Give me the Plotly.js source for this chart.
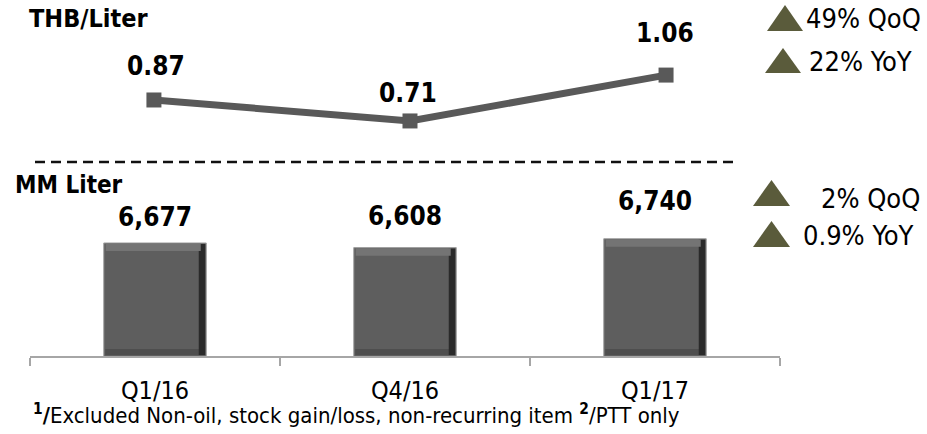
<!DOCTYPE html>
<html>
<head>
<meta charset="utf-8">
<script src="https://cdn.plot.ly/plotly-3.0.1.min.js"></script>
<style>html,body{margin:0;padding:0;background:#fff;}</style>
</head>
<body>
<div id="chart" style="width:927px;height:434px"></div>
<script>
// Quarterly oil marketing figures
const quarters = ['Q1/16', 'Q4/16', 'Q1/17'];
const volumeMMLiter = [6677, 6608, 6740];
const marginTHBPerLiter = [0.87, 0.71, 1.06];
const marginChanges = ['49% QoQ', '22% YoY'];
const volumeChanges = ['2% QoQ', '0.9% YoY'];

const FONT = "'DejaVu Sans Condensed', 'Noto Sans', sans-serif";
const W = 927, H = 434, L = 30, R = 147, T = 0, B = 78;
const PW = W - L - R, PH = H - T - B;
// pixel -> paper helpers for decorations
const px = x => (x - L) / PW;
const py = y => (H - B - y) / PH;

const barColor = '#5e5e5e';
const lineColor = '#595959';
const arrowColor = '#5a5b3b';

// bar body plus bevel edges (lighter top band, dark right edge, darker foot)
const BAR_W = 0.41;
const BEVEL_UNITS = 110;          // ~7px on the volume axis
const bars = {
  type: 'bar', x: quarters, y: volumeMMLiter, xaxis: 'x', yaxis: 'y',
  width: BAR_W, offset: -BAR_W / 2,
  marker: {color: barColor, line: {color: '#a0a0a0', width: 1}},
  hoverinfo: 'skip'
};
const barTop = {
  type: 'bar', x: quarters, y: volumeMMLiter.map(() => BEVEL_UNITS),
  base: volumeMMLiter.map(v => v - BEVEL_UNITS - 10), xaxis: 'x', yaxis: 'y',
  width: BAR_W - 0.03, offset: -BAR_W / 2 + 0.008,
  marker: {color: '#747474', line: {width: 0}}, hoverinfo: 'skip'
};
const barRight = {
  type: 'bar', x: quarters, y: volumeMMLiter.map(v => v - 5000 - 30), base: 5015,
  xaxis: 'x', yaxis: 'y',
  width: 0.026, offset: BAR_W / 2 - 0.03,
  marker: {color: '#2a2a2a', line: {width: 0}}, hoverinfo: 'skip'
};
const barBottom = {
  type: 'bar', x: quarters, y: volumeMMLiter.map(() => 90), base: 5015,
  xaxis: 'x', yaxis: 'y',
  width: BAR_W - 0.035, offset: -BAR_W / 2 + 0.006,
  marker: {color: '#4e4e4e', line: {width: 0}}, hoverinfo: 'skip'
};

const line = {
  type: 'scatter', mode: 'lines+markers', x: quarters, y: marginTHBPerLiter,
  xaxis: 'x2', yaxis: 'y2', cliponaxis: false,
  line: {color: lineColor, width: 7},
  marker: {symbol: 'square', size: 15, color: lineColor},
  hoverinfo: 'skip'
};

// label lifts above each mark (px)
const barLabelLift = [26, 32, 38];
const lineLabelLift = [34, 28, 42];
const lineLabelNudge = [2, -2, -1];

const annotations = [];
volumeMMLiter.forEach((v, i) => annotations.push({
  x: quarters[i], y: v, xref: 'x', yref: 'y', showarrow: false,
  text: v.toLocaleString('en-US'), yanchor: 'middle', yshift: barLabelLift[i],
  font: {family: FONT, size: 26, color: '#000', weight: 700}
}));
marginTHBPerLiter.forEach((v, i) => annotations.push({
  x: quarters[i], y: v, xref: 'x2', yref: 'y2', showarrow: false,
  text: v.toFixed(2), yanchor: 'middle', yshift: lineLabelLift[i], xshift: lineLabelNudge[i],
  font: {family: FONT, size: 26, color: '#000', weight: 700}
}));

function paperText(text, x, y, size, weight) {
  return {
    text, x: px(x), y: py(y), xref: 'paper', yref: 'paper', showarrow: false,
    xanchor: 'left', yanchor: 'middle',
    font: {family: FONT, size, color: '#000', weight: weight || 400}
  };
}
annotations.push(paperText('THB/Liter', 27, 18, 25, 700));
annotations.push(paperText('MM Liter', 13, 185, 24, 700));
annotations.push(paperText(marginChanges[0], 804, 19, 27));
annotations.push(paperText(marginChanges[1], 807, 62, 27));
annotations.push(paperText(volumeChanges[0], 819, 198, 27));
annotations.push(paperText(volumeChanges[1], 801, 235, 27));
annotations.push(paperText('<b><sup>1</sup>/</b>Excluded Non-oil, stock gain/loss, non-recurring item <b><sup>2</sup></b>/PTT only',
  31, 414, 22));

function tri(x0, x1, yTop, yBot) {
  const m = (x0 + x1) / 2;
  return {
    type: 'path', xref: 'paper', yref: 'paper',
    path: `M ${px(x0)},${py(yBot)} L ${px(x1)},${py(yBot)} L ${px(m)},${py(yTop)} Z`,
    fillcolor: arrowColor, line: {width: 0}
  };
}
const shapes = [
  tri(767, 803, 5, 31),
  tri(765, 801, 48, 73),
  tri(753, 790, 180, 206),
  tri(753, 790, 221, 247),
  {type: 'line', xref: 'paper', yref: 'paper', x0: px(35), x1: px(735), y0: py(162), y1: py(162),
   line: {color: '#111', width: 2.5, dash: '10px,6px'}}
];

const layout = {
  width: W, height: H,
  margin: {l: L, r: R, t: T, b: B, pad: 0},
  paper_bgcolor: '#fff', plot_bgcolor: '#fff',
  showlegend: false, barmode: 'overlay',
  xaxis: {
    type: 'category', range: [-0.5, 2.5], anchor: 'y',
    showline: true, linecolor: '#a6a6a6', linewidth: 2,
    ticks: 'outside', tickson: 'boundaries', ticklen: 8, tickwidth: 2, tickcolor: '#a6a6a6',
    ticklabelstandoff: 11,
    tickfont: {family: FONT, size: 25, color: '#000'},
    showgrid: false, zeroline: false, fixedrange: true
  },
  xaxis2: {
    type: 'category', overlaying: 'x', anchor: 'y2', range: [-0.484, 2.445],
    visible: false, fixedrange: true
  },
  yaxis: {domain: [0, 0.5], range: [5000, 7641], visible: false, fixedrange: true},
  yaxis2: {domain: [0.5, 1], range: [0.2746, 1.633], visible: false, fixedrange: true},
  annotations, shapes
};

Plotly.newPlot('chart', [bars, barBottom, barRight, barTop, line], layout,
  {displayModeBar: false, staticPlot: true});
</script>
</body>
</html>
